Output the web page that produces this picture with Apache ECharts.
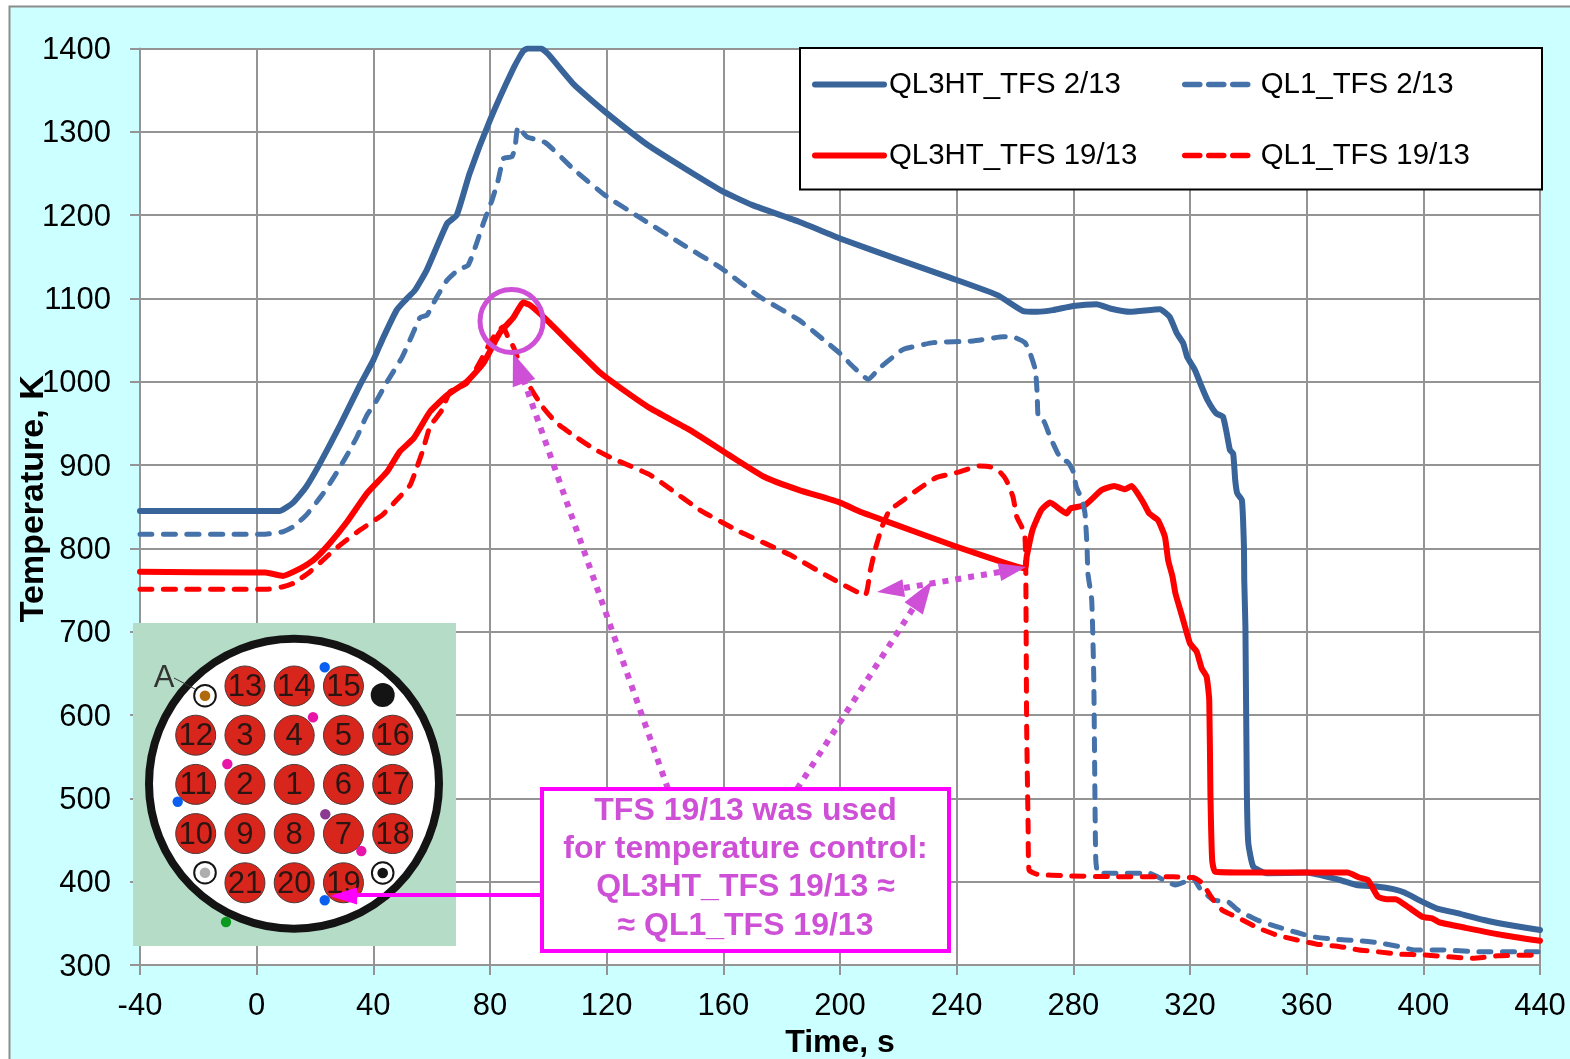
<!DOCTYPE html>
<html>
<head>
<meta charset="utf-8">
<style>html,body{margin:0;padding:0;background:#fff}#c{width:1570px;height:1059px}</style>
<script src="https://cdn.jsdelivr.net/npm/echarts@6/dist/echarts.min.js"></script>
</head>
<body>
<div id="c"></div>
<script>
const xTicks = [-40, 440, 40];
const yTicks = [300, 1400, 100];
const seriesNames = ['QL3HT_TFS 2/13', 'QL1_TFS 2/13', 'QL3HT_TFS 19/13', 'QL1_TFS 19/13'];

const ql3ht_2 = [[-40,845],[0,845],[8,845],[12.5,855],[17,874],[21.7,902],[28.6,948],[35.4,996],[40,1026],[43.4,1053],[48,1086],[51,1098],[54.3,1110],[58.3,1134],[65.3,1190],[68.6,1200],[73,1250],[80,1314],[88,1376],[91.4,1397],[93,1400],[97.5,1400],[100,1393],[109,1356],[119.5,1324],[135,1282],[159,1230],[170,1212],[186,1192],[200,1172],[220.6,1146],[237.7,1125],[254,1104],[262.7,1085],[267.5,1084],[273,1086],[280,1091],[288,1093],[292.6,1088],[299.4,1084],[309.7,1087],[313,1078],[315.5,1058],[317.7,1046],[319,1030],[321.7,1014],[324,994],[326,978],[329,962],[331.3,958],[332.6,938],[333.7,918],[334.8,914],[335.5,882],[336.2,866],[337.8,858],[338.5,802],[338.6,762],[339,706],[339.5,506],[340,446],[341.7,418],[346.3,410],[360,411],[371.4,402],[377,396],[384.5,394],[389.7,391],[393.5,387],[399.6,376],[404.5,368],[412,362],[420.8,354],[429.4,348],[440,342]];

const ql1_2 = [[-40,817],[2,817],[9,820],[12.5,826],[17,840],[22.4,864],[26.2,884],[31,912],[34.4,934],[37.8,960],[41.2,978],[44.7,1000],[49.8,1029],[53.3,1056],[56,1077],[58.4,1080],[61.8,1102],[65.3,1122],[69,1134],[72.5,1140],[75,1162],[77.7,1190],[80.7,1218],[82.8,1242],[84.6,1268],[87.5,1270],[88.6,1282],[89.6,1306],[92.7,1294],[99,1287],[109,1254],[119.4,1224],[131.4,1197],[145,1167],[159,1137],[172.5,1102],[186,1074],[196.6,1044],[200,1034],[204.5,1018],[209.7,1003],[213.7,1017],[219,1032],[221.7,1039],[232,1047],[245.7,1049],[256,1054],[260,1053],[263.4,1047],[265,1036],[267,1014],[267.6,986],[268,956],[270,952],[272,934],[274.4,916],[276,906],[278,904],[280,892],[281,874],[283,858],[284,842],[284.7,802],[285,770],[286.3,738],[287,646],[287.4,506],[287.7,426],[288.5,410],[293.7,410],[306,410],[311,402],[315,396],[318.3,400],[320.7,406],[323.4,392],[328,378],[333,376],[336.4,366],[343,354],[349.7,346],[356.7,339],[362,334],[369,331],[378,329],[384,327],[392,322],[397,318],[407,318],[418,316],[440,316]];

const ql3ht_19 = [[-40,772],[-2,771],[3,771],[9,767],[15,776],[19.5,786],[25,806],[31,832],[37.8,866],[44.7,892],[49,916],[53.8,932],[59.4,964],[65.3,984],[72,1000],[77.7,1022],[83.4,1059],[88,1077],[91.4,1095],[93.7,1092],[99.5,1074],[109.8,1038],[117.7,1011],[124.6,993],[135,968],[148.6,942],[162,912],[174,886],[186,870],[200,855],[206.9,844],[214.8,834],[240,802],[257,782],[263.4,776],[264,790],[266,822],[269,846],[272,855],[277.7,842],[279,848],[284,852],[289.7,870],[294,875],[297.7,871],[300,875],[304,855],[306,842],[309,834],[311.4,814],[312.5,786],[314,766],[315,746],[317,722],[318.3,706],[320,686],[322.3,676],[324,656],[325.7,646],[326.6,618],[327,506],[327.6,426],[328.6,412],[345,411],[374,411],[378,405],[381,402],[384.4,382],[387.5,379],[390.5,379],[395,369],[399.6,358],[403,356],[405.7,351],[414,345],[427,336],[440,329]];

const ql1_19 = [[-40,751],[3.5,751],[9,754],[12.5,758],[18.3,772],[24,790],[28.6,804],[35.4,822],[43,840],[48,858],[52.6,876],[55,898],[57,918],[59.4,946],[63.5,966],[66.3,988],[72,998],[76.6,1024],[79.3,1042],[82.4,1060],[84.5,1066],[86,1055],[88,1042],[92.7,1000],[98,970],[103,950],[108.5,936],[115.4,920],[122,908],[135,888],[152,846],[165.7,820],[183,792],[196.6,765],[208.6,744],[210.3,772],[212,798],[214.4,826],[217,846],[220.6,855],[226.4,870],[233,885],[240,891],[248,899],[251.4,898],[255,891],[257,882],[259.3,862],[260.6,838],[262.3,826],[263.4,814],[263.7,774],[264,586],[264.5,466],[264.8,414],[267.5,409],[277.7,407],[295,406],[314.3,406],[318.4,405],[321,405],[324,399],[328,378],[331,366],[334.4,360],[338,354],[343,345],[349.7,336],[356.7,330],[363.5,325],[371.4,322],[378,318],[384,316],[392,313],[400.5,312],[417,308],[425.6,311],[440,312]];

const pinRows = [[0,13,14,15,0],[12,3,4,5,16],[11,2,1,6,17],[10,9,8,7,18],[0,21,20,19,0]];
const noteLines = ['TFS 19/13 was used', 'for temperature control:', 'QL3HT_TFS 19/13 \u2248', '\u2248 QL1_TFS 19/13'];

const FONT = '"Liberation Sans", Arial, sans-serif';
const VIOLET = '#CE50D6', MAGENTA = '#FF00FF';
const BLUE = '#38649A', BLUE2 = '#4672AA', RED = '#FF0000';

function lineEl(x1,y1,x2,y2,style,z){return {type:'line',z:z||10,shape:{x1,y1,x2,y2},style:Object.assign({stroke:'#000',lineWidth:1},style)};}
function circ(cx,cy,r,style,z){return {type:'circle',z:z||10,shape:{cx,cy,r},style};}
function text(t,x,y,size,fill,weight,z){return {type:'text',z:z||12,style:{text:t,x,y,fill,font:(weight||'normal')+' '+size+'px '+FONT,textAlign:'center',textVerticalAlign:'middle'}};}
function head(tipX,tipY,fromX,fromY,len,hw,fill,z){
  const dx=fromX-tipX,dy=fromY-tipY,d=Math.hypot(dx,dy),ux=dx/d,uy=dy/d;
  const bx=tipX+ux*len,by=tipY+uy*len;
  return {type:'polygon',z:z||11,shape:{points:[[tipX,tipY],[bx-uy*hw,by+ux*hw],[bx+uy*hw,by-ux*hw]]},style:{fill}};
}
const dots = {stroke:VIOLET,lineWidth:6,lineDash:[6,7],lineCap:'butt'};

const els = [];
els.push({type:'rect',z:-5,shape:{x:9.5,y:6.5,width:1700,height:1200},style:{fill:'#CCFFFF',stroke:'#8C8C8C',lineWidth:2}});

els.push({type:'rect',z:8,shape:{x:133,y:623,width:323,height:323},style:{fill:'#B5DCC6'}});
els.push(circ(294,783.7,145,{fill:'#fff',stroke:'#141414',lineWidth:8},9));
pinRows.forEach((row,r)=>row.forEach((n,c)=>{
  if(!n) return;
  const x=195.7+c*49.25,y=686+r*49.2;
  els.push(circ(x,y,20,{fill:'#D9261C',stroke:'#4A3A38',lineWidth:1},10));
  els.push(text(String(n),x,y+1.5,31,'#2A1512','normal',11));
}));
[[205,695.7,'#B06A0A'],[205,872.7,'#AEAEAE'],[382.7,873,'#141414']].forEach(a=>{
  els.push(circ(a[0],a[1],10.8,{fill:'#fff',stroke:'#141414',lineWidth:2},10));
  els.push(circ(a[0],a[1],5.3,{fill:a[2]},11));
});
els.push(circ(382.7,695,12,{fill:'#141414'},10));
[[324.7,667.3,'#0A5FF0'],[313,717.3,'#E815A8'],[227.3,764,'#E815A8'],[177.7,801.7,'#0A5FF0'],[325.3,814.3,'#8A3A90'],[361.3,851,'#E815A8'],[324.7,900.3,'#0A5FF0'],[226,922,'#0A9A20']].forEach(a=>{
  els.push(circ(a[0],a[1],5.2,{fill:a[2]},12));
});
els.push(text('A',164,678,31,'#333','normal',11));
els.push(lineEl(174,678,195,689,{stroke:'#333',lineWidth:1},11));
els.push(lineEl(541,895,350,895,{stroke:MAGENTA,lineWidth:4},13));
els.push(head(330,896,541,896,27,8.5,MAGENTA,13));

els.push(circ(511.5,321,31.5,{fill:'none',stroke:VIOLET,lineWidth:5},11));
els.push(lineEl(668,789,524,381,dots));
els.push(head(513,353,524,383,32,12,VIOLET));
els.push(lineEl(797,789,914,607,dots));
els.push(head(932,581,914,608,33,11,VIOLET));
els.push(lineEl(904,588,1000,572,dots));
els.push(head(877,592,904,588,27,9,VIOLET));
els.push(head(1026,567,1000,572,27,9,VIOLET));

els.push({type:'rect',z:14,shape:{x:542,y:789,width:407,height:162},style:{fill:'#fff',stroke:MAGENTA,lineWidth:4}});
noteLines.forEach((t,i)=>els.push(text(t,745.5,[811,849,887,926][i],32,VIOLET,'bold',15)));

els.push({type:'rect',z:19,shape:{x:800,y:48,width:742,height:141.5},style:{fill:'#fff',stroke:'#000',lineWidth:2}});

const chart = echarts.init(document.getElementById('c'),null,{renderer:'canvas',width:1570,height:1059});
const gridColor = '#949494';
function mk(name,data,color,dashed,w){
  return {name,type:'line',data,symbol:'none',showSymbol:false,smooth:0.15,sampling:null,z:dashed?3:2,
    lineStyle:{color,width:w,type:dashed?[12,11.5]:'solid',cap:'round',join:'round'},itemStyle:{color}};
}
function lg(left,width,items,dash){
  return {show:true,z:20,left,top:70,orient:'vertical',padding:0,itemGap:42,itemWidth:width,itemHeight:1,
    textStyle:{fontFamily:FONT,fontSize:29.4,color:'#000'},
    lineStyle:{width:6,cap:'round'},
    data:items.map(name=>dash?{name,lineStyle:{type:dash,width:5.5,cap:'round'}}:{name})};
}
chart.setOption({
  animation:false,
  backgroundColor:'transparent',
  grid:{left:140,top:48.5,width:1400,height:916.5,show:true,backgroundColor:'#fff',borderWidth:0,containLabel:false,outerBoundsMode:'none'},
  xAxis:{type:'value',min:xTicks[0],max:xTicks[1],interval:xTicks[2],
    name:'Time, s',nameLocation:'middle',nameGap:62,nameMoveOverlap:false,nameTextStyle:{fontFamily:FONT,fontWeight:'bold',fontSize:32,color:'#000'},
    axisLine:{onZero:false,lineStyle:{color:gridColor,width:2}},
    axisTick:{show:true,length:10,lineStyle:{color:gridColor,width:2}},
    axisLabel:{fontFamily:FONT,fontSize:31,color:'#000',margin:26,showMaxLabel:true,showMinLabel:true,hideOverlap:false,formatter:v=>String(v)},
    splitLine:{show:true,lineStyle:{color:gridColor,width:2}}},
  yAxis:{type:'value',min:yTicks[0],max:yTicks[1],interval:yTicks[2],
    name:'Temperature, K',nameLocation:'middle',nameGap:89,nameMoveOverlap:false,nameTextStyle:{fontFamily:FONT,fontWeight:'bold',fontSize:34,color:'#000',padding:[0,0,0,16]},
    axisLine:{onZero:false,lineStyle:{color:gridColor,width:2}},
    axisTick:{show:true,length:10,lineStyle:{color:gridColor,width:2}},
    axisLabel:{fontFamily:FONT,fontSize:31,color:'#000',margin:29,verticalAlign:'top',lineHeight:4,showMaxLabel:true,showMinLabel:true,hideOverlap:false,formatter:v=>String(v)},
    splitLine:{show:true,lineStyle:{color:gridColor,width:2}}},
  legend:[lg(812,69,[seriesNames[0],seriesNames[2]],null),lg(1182,71,[seriesNames[1],seriesNames[3]],[15,9])],
  tooltip:{show:false},
  series:[mk(seriesNames[0],ql3ht_2,BLUE,false,6),mk(seriesNames[1],ql1_2,BLUE2,true,5),
          mk(seriesNames[2],ql3ht_19,RED,false,6),mk(seriesNames[3],ql1_19,RED,true,5)],
  graphic:{elements:els}
});
</script>
</body>
</html>
